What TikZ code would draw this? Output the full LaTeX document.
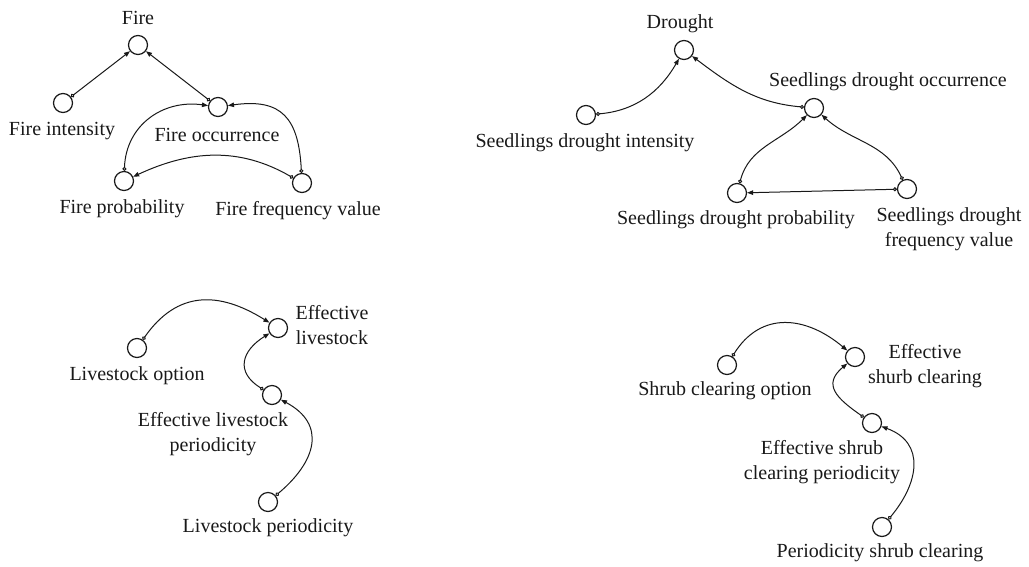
\documentclass[tikz,border=0pt]{standalone}
\usepackage{fontspec}
\setmainfont{Liberation Serif}
\usetikzlibrary{arrows.meta}
\definecolor{ink}{RGB}{25,25,25}
\begin{document}
\begin{tikzpicture}[x=1pt,y=1pt,
  var/.style={circle,draw=ink,line width=1.2pt,minimum size=19pt,inner sep=0pt},
  lbl/.style={font=\fontsize{20}{25}\selectfont,align=center,text=ink,inner sep=0pt},
  link/.style={draw=ink,line width=1pt,
    {Circle[open,length=4pt,width=4pt]}-{Triangle[length=6pt,width=4.5pt]}}]
\useasboundingbox (0,0) rectangle (1029,-566);

% ---- fire submodel ----
\node[var] (fire)  at (138,-45)  {};
\node[lbl] (tfire) at (138,-18)  {Fire};
\node[var] (fint)  at (63,-103)  {};
\node[lbl] (tfint) at (62,-131)  {Fire intensity};
\node[var] (focc)  at (218,-107) {};
\node[lbl] (tfocc) at (217,-135) {Fire occurrence};
\node[var] (fprob) at (124,-181) {};
\node[lbl] (tfprob) at (122,-209) {Fire probability};
\node[var] (ffreq) at (302,-183) {};
\node[lbl] (tffreq) at (298,-211) {Fire frequency value};

\draw[link] (fint) -- (fire);
\draw[link] (focc) -- (fire);
\draw[link] (fprob) to[out=88,in=172,looseness=1.1] (focc);
\draw[link] (ffreq) to[out=93,in=8,looseness=1.4] (focc);
\draw[link] (ffreq) to[out=150,in=25] (fprob);

% ---- drought submodel ----
\node[var] (dr)   at (684,-50)  {};
\node[lbl] (tdr)  at (680,-24)  {Drought};
\node[var] (sdi)  at (586,-115) {};
\node[lbl] (tsdi) at (585,-143) {Seedlings drought intensity};
\node[var] (sdo)  at (814,-108) {};
\node[lbl] (tsdo) at (888,-82)  {Seedlings drought occurrence};
\node[var] (sdp)  at (737,-193) {};
\node[lbl] (tsdp) at (736,-220) {Seedlings drought probability};
\node[var] (sdf)  at (907,-189) {};
\node[lbl] (tsdf) at (949,-229) {Seedlings drought\\frequency value};

\draw[link] (sdi) to[out=5,in=-120] (dr);
\draw[link] (sdo) to[out=175,in=-37] (dr);
\draw[link] (sdp) to[out=75,in=-135] (sdo);
\draw[link] (sdf) to[out=115,in=-42] (sdo);
\draw[link] (sdf) -- (sdp);

% ---- livestock submodel ----
\node[var] (efl)  at (278,-328) {};
\node[lbl] (tefl) at (332,-325) {Effective\\livestock};
\node[var] (lo)   at (137,-348) {};
\node[lbl] (tlo)  at (137,-376) {Livestock option};
\node[var] (elp)  at (272,-395) {};
\node[lbl] (telp) at (213,-434) {Effective livestock\\periodicity};
\node[var] (lp)   at (268,-502) {};
\node[lbl] (tlp)  at (268,-528) {Livestock periodicity};

\draw[link] (lo) to[out=55,in=148,looseness=1.2] (efl);
\draw[link] (elp) to[out=148,in=-148,looseness=1.5] (efl);
\draw[link] (lp) to[out=40,in=-28,looseness=1.4] (elp);

% ---- shrub clearing submodel ----
\node[var] (esc)   at (855,-357) {};
\node[lbl] (tesc)  at (925,-366) {Effective\\shurb clearing};
\node[var] (sco)   at (727,-365) {};
\node[lbl] (tsco)  at (725,-391) {Shrub clearing option};
\node[var] (escp)  at (872,-423) {};
\node[lbl] (tescp) at (822,-462) {Effective shrub\\clearing periodicity};
\node[var] (psc)   at (882,-527) {};
\node[lbl] (tpsc)  at (880,-553) {Periodicity shrub clearing};

\draw[link] (sco) to[out=58,in=140,looseness=1.2] (esc);
\draw[link] (escp) to[out=145,in=-140,looseness=1.5] (esc);
\draw[link] (psc) to[out=50,in=-20,looseness=1.3] (escp);
\end{tikzpicture}
\end{document}
